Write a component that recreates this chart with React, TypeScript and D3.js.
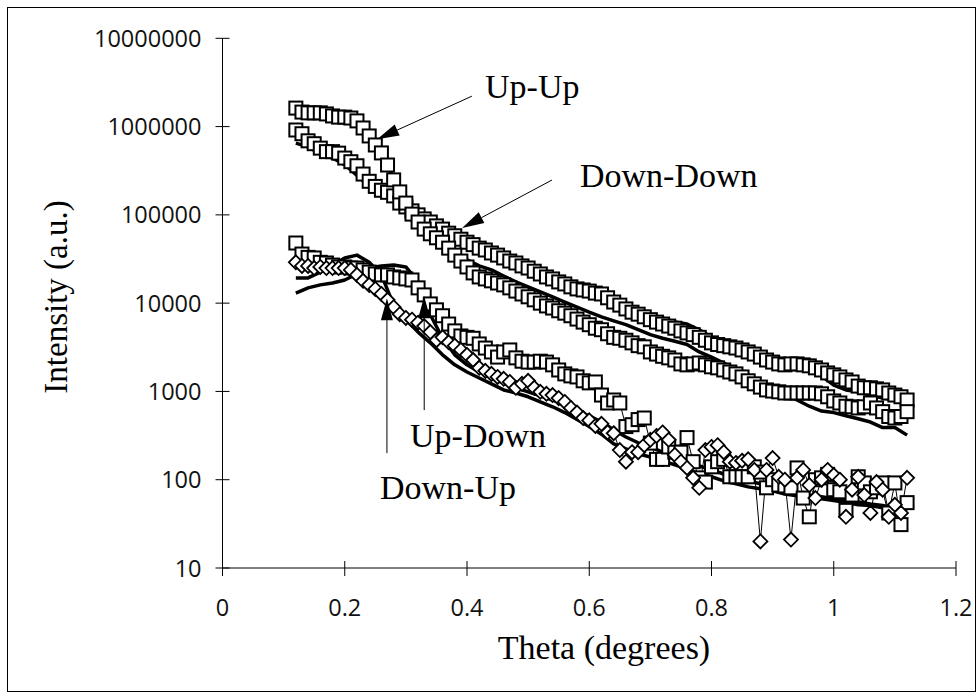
import React from 'react';
import * as d3 from 'd3';

// Theta scan grid (degrees) for the measured data
const thetaScan = [
  0.12, 0.13, 0.14, 0.15, 0.16, 0.17, 0.18, 0.19, 0.20, 0.21,
  0.22, 0.23, 0.24, 0.25, 0.26, 0.27, 0.28, 0.29, 0.30, 0.31,
  0.32, 0.33, 0.34, 0.35, 0.36, 0.37, 0.38, 0.39, 0.40, 0.41,
  0.42, 0.43, 0.44, 0.45, 0.46, 0.47, 0.48, 0.49, 0.50, 0.51,
  0.52, 0.53, 0.54, 0.55, 0.56, 0.57, 0.58, 0.59, 0.60, 0.61,
  0.62, 0.63, 0.64, 0.65, 0.66, 0.67, 0.68, 0.69, 0.70, 0.71,
  0.72, 0.73, 0.74, 0.75, 0.76, 0.77, 0.78, 0.79, 0.80, 0.81,
  0.82, 0.83, 0.84, 0.85, 0.86, 0.87, 0.88, 0.89, 0.90, 0.91,
  0.92, 0.93, 0.94, 0.95, 0.96, 0.97, 0.98, 0.99, 1.00, 1.01,
  1.02, 1.03, 1.04, 1.05, 1.06, 1.07, 1.08, 1.09, 1.10, 1.11,
  1.12,
];

// Theta grid for the fitted (thick) curves
const thetaFit = [
  0.12, 0.14, 0.16, 0.18, 0.20, 0.22, 0.24, 0.26, 0.28, 0.30,
  0.32, 0.34, 0.36, 0.38, 0.40, 0.42, 0.44, 0.46, 0.48, 0.50,
  0.52, 0.54, 0.56, 0.58, 0.60, 0.62, 0.64, 0.66, 0.68, 0.70,
  0.72, 0.74, 0.76, 0.78, 0.80, 0.82, 0.84, 0.86, 0.88, 0.90,
  0.92, 0.94, 0.96, 0.98, 1.00, 1.02, 1.04, 1.06, 1.08, 1.10,
  1.12,
];

const upUp = [
  1620000, 1460000, 1430000, 1430000, 1430000, 1390000, 1320000, 1280000, 1280000, 1250000,
  1160000, 964000, 783000, 619000, 503000, 367000, 249000, 182000, 136000, 102000,
  83000, 69000, 61000, 55000, 49000, 42000, 35000, 30000, 25700, 22000,
  19800, 18800, 17900, 16900, 16100, 14900, 13700, 12700, 11800, 10900,
  10000, 9300, 8800, 8200, 7700, 7200, 6600, 6100, 5700, 5200,
  5000, 4500, 4100, 4000, 3800, 3550, 3300, 3200, 2800, 2650,
  2500, 2400, 2270, 2050, 2000, 2050, 2100, 2000, 1900, 1850,
  1750, 1660, 1580, 1460, 1320, 1220, 1120, 1040, 1010, 990,
  960, 960, 960, 960, 960, 960, 940, 870, 780, 740,
  680, 670, 650, 670, 740, 650, 590, 520, 500, 520,
  590,
];

const downDown = [
  915000, 830000, 690000, 640000, 570000, 520000, 520000, 500000, 440000, 400000,
  360000, 290000, 240000, 210000, 190000, 180000, 164000, 136000, 123000, 111000,
  100000, 90000, 83000, 75000, 69000, 62000, 58000, 53000, 49000, 46000,
  42000, 40000, 37000, 35000, 32500, 30000, 28500, 26400, 25000, 23000,
  21400, 19800, 18800, 17400, 16500, 15300, 14500, 14100, 13700, 13000,
  12700, 11500, 10300, 9500, 8600, 7900, 7500, 7000, 6500, 6100,
  5800, 5500, 5200, 4850, 4600, 4400, 4100, 3800, 3550, 3400,
  3300, 3200, 3100, 2950, 2800, 2650, 2450, 2270, 2150, 2050,
  2000, 2050, 2050, 2000, 1950, 1850, 1750, 1620, 1540, 1460,
  1350, 1280, 1150, 1100, 1100, 1070, 1040, 960, 910, 870,
  800,
];

const upDown = [
  48000, 36000, 33000, 32500, 29000, 28500, 27000, 25700, 25700, 25000,
  25000, 23800, 22500, 21400, 20900, 20900, 19800, 19300, 18800, 18300,
  14900, 12400, 9800, 8400, 7200, 5800, 4850, 4250, 4100, 4000,
  3450, 3100, 2800, 2450, 2800, 2950, 2400, 2200, 2150, 2150,
  2200, 2150, 2000, 1750, 1580, 1500, 1460, 1320, 1250, 1280,
  910, 740, 800, 740, 400, 420, 480, 500, 260, 170,
  170, 235, 205, 205, 300, 160, 105, 94, 140, 160,
  170, 108, 108, 108, 108, 140, 122, 81, 100, 87,
  85, 81, 136, 62, 38, 100, 105, 115, 77, 73,
  45, 67, 108, 92, 73, 81, 92, 42, 92, 31,
  55,
];

const downUp = [
  29000, 26400, 26400, 25000, 25700, 25000, 25000, 25000, 25000, 23800,
  20900, 17900, 16100, 14500, 12700, 10900, 9000, 7500, 6800, 6500,
  6000, 5500, 4700, 3800, 4100, 3600, 3300, 2950, 2600, 2270,
  1850, 1710, 1580, 1460, 1390, 1280, 1100, 1220, 1320, 1100,
  990, 940, 910, 840, 760, 650, 576, 500, 470, 406,
  430, 343, 336, 217, 160, 205, 205, 246, 283, 313,
  343, 283, 191, 160, 136, 105, 81, 217, 235, 246,
  205, 160, 155, 164, 170, 129, 20, 129, 176, 108,
  100, 21, 105, 129, 87, 62, 100, 129, 113, 100,
  38, 77, 108, 67, 42, 94, 77, 38, 52, 42,
  105,
];

const fitDownDown = [
  650000, 590000, 490000, 440000, 370000, 280000, 212000, 172000, 148000, 114000,
  90000, 75000, 62000, 53000, 47000, 40000, 35000, 31000, 27000, 23800,
  20900, 18300, 16100, 14100, 12400, 11500, 10600, 9500, 8400, 7400,
  6800, 6100, 5800, 5000, 4100, 3600, 3300, 2950, 2650, 2400,
  2150, 1950, 1750, 1500, 1180, 1040, 990, 910, 840, 800,
  700,
];

const fitUpUp = [
  1540000, 1390000, 1350000, 1250000, 1190000, 1070000, 740000, 480000, 262000, 148000,
  92000, 67000, 49000, 38000, 31000, 26400, 23800, 20300, 17400, 15300,
  13400, 11800, 10300, 9000, 7900, 7000, 6300, 5700, 5000, 4400,
  4000, 3700, 3400, 2800, 2450, 2100, 1800, 1500, 1280, 1070,
  910, 800, 680, 600, 576, 530, 490, 450, 390, 390,
  320,
];

const fitDownUp = [
  19300, 19300, 22500, 27000, 32500, 35000, 29000, 20900, 9500, 6500,
  4700, 3550, 2600, 2000, 1660, 1420, 1220, 1040, 960, 870,
  760, 670, 576, 480, 400, 328, 255, 223, 196, 181,
  164, 147, 133, 116, 108, 97, 90, 83, 79, 75,
  69, 66, 64, 61, 58, 55, 52, 51, 48, 47,
  44,
];

const fitUpDown = [
  13000, 14900, 16100, 16900, 18300, 21400, 25000, 26400, 27000, 25700,
  17400, 7400, 4000, 2600, 2000, 1660, 1420, 1250, 1100, 990,
  890, 800, 700, 600, 530, 450, 368, 305, 262, 235,
  205, 187, 170, 143, 129, 116, 105, 97, 90, 83,
  77, 71, 67, 64, 61, 59, 56, 53, 51, 48,
  45,
];

const xTicks = [0, 0.2, 0.4, 0.6, 0.8, 1, 1.2];
const xTickLabels = ['0', '0.2', '0.4', '0.6', '0.8', '1', '1.2'];
const yTicks = [10, 100, 1000, 10000, 100000, 1000000, 10000000];
const yTickLabels = ['10', '100', '1000', '10000', '100000', '1000000', '10000000'];

// Annotations: label text, label anchor, arrow tail and tip in data units
const annotations = [
  { text: 'Up-Up', lx: 485, ly: 98, from: [0.408, 2210000], to: [0.253, 720000] },
  { text: 'Down-Down', lx: 580, ly: 187, from: [0.539, 248000], to: [0.392, 71000] },
  { text: 'Up-Down', lx: 410, ly: 447, from: [0.33, 615], to: [0.33, 12000] },
  { text: 'Down-Up', lx: 380, ly: 499, from: [0.269, 200], to: [0.269, 11400] },
];

const SANS = "'Open Sans', 'Noto Sans', 'DejaVu Sans', sans-serif";
const SERIF = "'Liberation Serif', 'Times New Roman', serif";

export default function App() {
  const W = 978;
  const H = 700;
  const x = d3.scaleLinear().domain([0, 1.2]).range([222.5, 956]);
  const y = d3.scaleLog().domain([10, 1e7]).range([568, 38.3]);
  const line = d3
    .line<[number, number]>()
    .x((d) => x(d[0]))
    .y((d) => y(d[1]));

  const pairs = (xs: number[], ys: number[]) =>
    xs.map((t, i) => [t, ys[i]] as [number, number]);

  const x0 = x(0);
  const y0 = y(10);

  const square = (xs: number[], ys: number[], key: string) =>
    xs.map((t, i) => (
      <rect
        key={key + i}
        x={x(t) - 6.5}
        y={y(ys[i]) - 6.5}
        width={13}
        height={13}
        fill="#fff"
        stroke="#000"
        strokeWidth={2}
      />
    ));

  const diamond = (xs: number[], ys: number[], key: string) =>
    xs.map((t, i) => {
      const cx = x(t);
      const cy = y(ys[i]);
      return (
        <path
          key={key + i}
          d={`M${cx},${cy - 7}L${cx + 7},${cy}L${cx},${cy + 7}L${cx - 7},${cy}Z`}
          fill="#fff"
          stroke="#000"
          strokeWidth={1.8}
        />
      );
    });

  const arrow = (a: typeof annotations[number], i: number) => {
    const x1 = x(a.from[0]);
    const y1 = y(a.from[1]);
    const x2 = x(a.to[0]);
    const y2 = y(a.to[1]);
    const dx = x2 - x1;
    const dy = y2 - y1;
    const len = Math.sqrt(dx * dx + dy * dy);
    const ux = dx / len;
    const uy = dy / len;
    const hl = 22;
    const hw = 6;
    const bx = x2 - ux * hl;
    const by = y2 - uy * hl;
    const px = -uy * hw;
    const py = ux * hw;
    return (
      <g key={'arr' + i}>
        <line x1={x1} y1={y1} x2={bx} y2={by} stroke="#000" strokeWidth={1} />
        <path
          d={`M${x2},${y2}L${bx + px},${by + py}L${bx - px},${by - py}Z`}
          fill="#000"
        />
        <text x={a.lx} y={a.ly} fontFamily={SERIF} fontSize={34} fill="#000">
          {a.text}
        </text>
      </g>
    );
  };

  return (
    <svg
      width={W}
      height={H}
      style={{ position: 'absolute', left: 0, top: 0, background: '#fff' }}
    >
      <rect x={0} y={0} width={W} height={H} fill="#fff" />
      <rect x={7.5} y={7.5} width={968} height={684} fill="none" stroke="#000" strokeWidth={1} />

      {/* axes */}
      <line x1={x0} y1={y(1e7)} x2={x0} y2={y0} stroke="#000" strokeWidth={1} />
      <line x1={x0} y1={y0} x2={x(1.2)} y2={y0} stroke="#000" strokeWidth={1} />
      {yTicks.map((t, i) => (
        <g key={'yt' + i}>
          <line x1={x0 - 7} x2={x0 + 7} y1={y(t)} y2={y(t)} stroke="#000" strokeWidth={1} />
          <text
            x={201.5}
            y={y(t) + 8.5}
            textAnchor="end"
            fontFamily={SANS}
            fontSize={23.5}
            fill="#111"
          >
            {yTickLabels[i]}
          </text>
        </g>
      ))}
      {xTicks.map((t, i) => (
        <g key={'xt' + i}>
          <line x1={x(t)} x2={x(t)} y1={y0 - 7} y2={y0 + 8} stroke="#000" strokeWidth={1} />
          <text
            x={x(t)}
            y={616}
            textAnchor="middle"
            fontFamily={SANS}
            fontSize={23.5}
            fill="#111"
          >
            {xTickLabels[i]}
          </text>
        </g>
      ))}

      <text x={604} y={659} textAnchor="middle" fontFamily={SERIF} fontSize={34} fill="#000">
        Theta (degrees)
      </text>
      <text
        transform={`translate(67,297) rotate(-90)`}
        textAnchor="middle"
        fontFamily={SERIF}
        fontSize={33}
        fill="#000"
      >
        Intensity (a.u.)
      </text>

      {/* fitted curves */}
      <g fill="none" stroke="#000" strokeWidth={3.5} strokeLinejoin="round">
        <path d={line(pairs(thetaFit, fitDownDown)) || ''} />
        <path d={line(pairs(thetaFit, fitUpUp)) || ''} />
        <path d={line(pairs(thetaFit, fitUpDown)) || ''} />
        <path d={line(pairs(thetaFit, fitDownUp)) || ''} />
      </g>

      {/* thin connecting lines for the spin-flip data */}
      <g fill="none" stroke="#000" strokeWidth={1}>
        <path d={line(pairs(thetaScan, upDown)) || ''} />
        <path d={line(pairs(thetaScan, downUp)) || ''} />
      </g>

      {square(thetaScan, downDown, 'dd')}
      {square(thetaScan, upUp, 'uu')}
      {square(thetaScan, upDown, 'ud')}
      {diamond(thetaScan, downUp, 'du')}

      {annotations.map(arrow)}
    </svg>
  );
}
